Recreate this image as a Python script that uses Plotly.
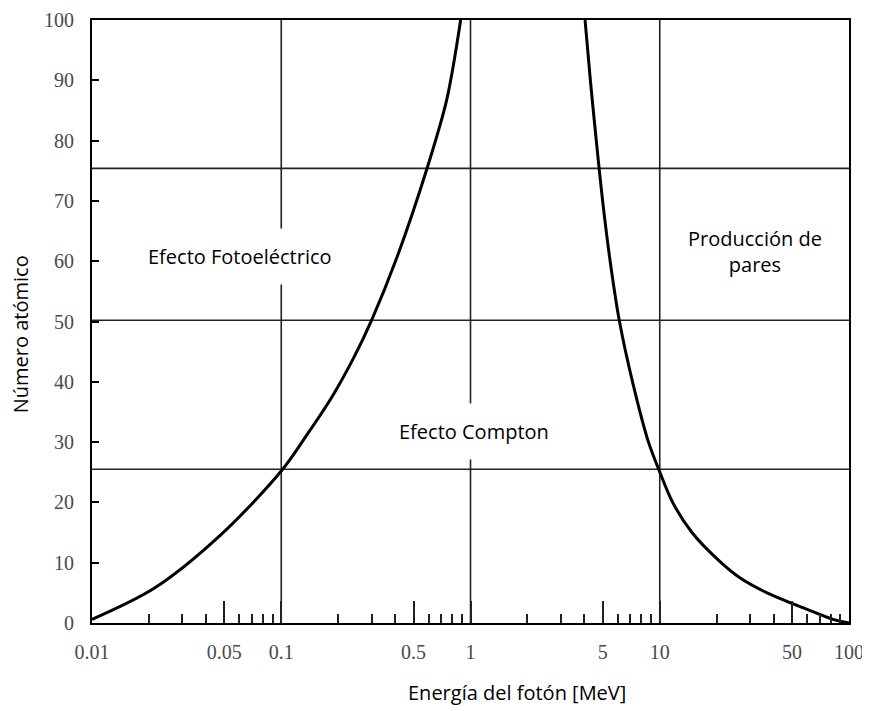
import math
import plotly.graph_objects as go

# ---- data ----
photo_compton_energy = [0.01, 0.0214, 0.0482, 0.1, 0.138, 0.187, 0.2416, 0.300, 0.406, 0.588, 0.749, 0.887]
photo_compton_z = [0.6, 5.8, 14.7, 25.2, 31.4, 37.7, 44.0, 50.2, 60.4, 75.3, 86.8, 100]

compton_pair_energy = [4.03, 4.30, 4.62, 4.99, 5.47, 6.11, 7.18, 8.72, 9.9, 11.7, 14.8, 21.1, 26.5, 36.9, 59.7, 82.3, 100]
compton_pair_z = [100, 90, 80, 70, 60, 50.2, 40, 30, 25.4, 20, 15, 10, 7.5, 5, 2.3, 0.6, 0]

horizontal_z = [25.5, 50.2, 75.4]
vertical_energy = [0.1, 1, 10]

x_tickvals = [0.01, 0.05, 0.1, 0.5, 1, 5, 10, 50, 100]
x_ticktext = ["0.01", "0.05", "0.1", "0.5", "1", "5", "10", "50", "100"]
x_minorvals = [0.02, 0.03, 0.04, 0.06, 0.07, 0.08, 0.09,
               0.2, 0.3, 0.4, 0.6, 0.7, 0.8, 0.9,
               2, 3, 4, 6, 7, 8, 9,
               20, 30, 40, 60, 70, 80, 90]
y_tickvals = [0, 10, 20, 30, 40, 50, 60, 70, 80, 90, 100]

labels = [
    ("Efecto Fotoeléctrico", 0.0607, 60.8, True),
    ("Efecto Compton", 1.04, 31.7, True),
    ("Producción de<br>pares", 31.8, 61.6, False),
]

fig = go.Figure()

for z in horizontal_z:
    fig.add_trace(go.Scatter(x=[0.01, 100], y=[z, z], mode="lines",
                             line=dict(color="#222", width=1.6),
                             hoverinfo="skip", showlegend=False))
for e in vertical_energy:
    fig.add_trace(go.Scatter(x=[e, e], y=[0, 100], mode="lines",
                             line=dict(color="#222", width=1.6),
                             hoverinfo="skip", showlegend=False))

fig.add_trace(go.Scatter(x=photo_compton_energy, y=photo_compton_z, mode="lines",
                         line=dict(color="black", width=3, shape="spline", smoothing=0.9),
                         showlegend=False))
fig.add_trace(go.Scatter(x=compton_pair_energy, y=compton_pair_z, mode="lines",
                         line=dict(color="black", width=3, shape="spline", smoothing=0.9),
                         showlegend=False))

label_font = dict(family="Open Sans", size=20, color="black")
for text, x, y, boxed in labels:
    fig.add_annotation(x=math.log10(x), y=y, xref="x", yref="y", text=text,
                       showarrow=False, font=label_font,
                       bgcolor="white" if boxed else "rgba(0,0,0,0)",
                       borderpad=14)

fig.add_annotation(x=0.561, y=-0.1157, xref="paper", yref="paper",
                   text="Energía del fotón [MeV]", showarrow=False,
                   font=label_font, xanchor="center", yanchor="middle")
fig.add_annotation(x=-0.095, y=0.479, xref="paper", yref="paper",
                   text="Número atómico", showarrow=False, textangle=-90,
                   font=label_font, xanchor="center", yanchor="middle")

tick_font = dict(family="Liberation Serif", size=20, color="#4a4a4a")

fig.update_layout(
    width=870, height=711,
    margin=dict(l=84, r=29, t=12, b=96),
    paper_bgcolor="white", plot_bgcolor="white",
    xaxis=dict(type="log", range=[-2, 2], tickmode="array",
               tickvals=x_tickvals, ticktext=x_ticktext, automargin=False,
               ticklabeloverflow="allow",
               ticks="inside", ticklen=22, tickwidth=1.5, tickcolor="#222",
               showline=True, mirror=True, linecolor="black", linewidth=2,
               showgrid=False, zeroline=False, tickfont=tick_font,
               ticklabelstandoff=10,
               minor=dict(tickmode="array", tickvals=x_minorvals, ticks="inside",
                          ticklen=9, tickwidth=1.5, tickcolor="#222", showgrid=False)),
    yaxis=dict(range=[0, 100], tickmode="array", tickvals=y_tickvals, automargin=False,
               ticklabeloverflow="allow",
               ticks="inside", ticklen=7, tickwidth=2, tickcolor="black",
               showline=True, mirror=True, linecolor="black", linewidth=2,
               showgrid=False, zeroline=False, tickfont=tick_font,
               ticklabelstandoff=12),
)

fig.write_html("out.html")
